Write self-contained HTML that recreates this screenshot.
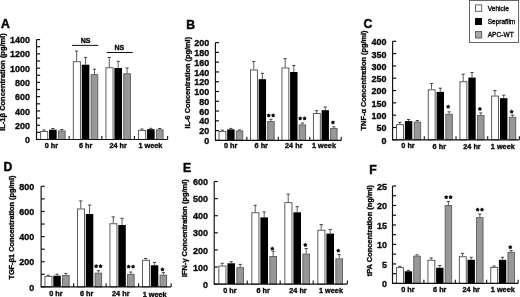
<!DOCTYPE html><html><head><meta charset="utf-8"><style>html,body{margin:0;padding:0;background:#fff;width:520px;height:297px;overflow:hidden}svg{display:block}</style></head><body>
<svg width="520" height="297" viewBox="0 0 520 297" style="filter:blur(0.3px)">
<rect width="520" height="297" fill="#fff"/>
<line x1="44" y1="131" x2="44" y2="130" stroke="#333" stroke-width="0.8"/>
<line x1="42.4" y1="130" x2="45.6" y2="130" stroke="#333" stroke-width="0.9"/>
<rect x="40.65" y="131.45" width="7.1" height="8.05" fill="#fff" stroke="#4a4a4a" stroke-width="0.9"/>
<line x1="52.9" y1="129.7" x2="52.9" y2="128.5" stroke="#333" stroke-width="0.8"/>
<line x1="51.3" y1="128.5" x2="54.5" y2="128.5" stroke="#333" stroke-width="0.9"/>
<rect x="49.1" y="129.7" width="7.6" height="9.8" fill="#000"/>
<line x1="61.8" y1="130.5" x2="61.8" y2="129.5" stroke="#333" stroke-width="0.8"/>
<line x1="60.2" y1="129.5" x2="63.4" y2="129.5" stroke="#333" stroke-width="0.9"/>
<rect x="58.45" y="130.95" width="6.7" height="8.55" fill="#979797" stroke="#5c5c5c" stroke-width="0.9"/>
<line x1="76.65" y1="61.3" x2="76.65" y2="51.1" stroke="#333" stroke-width="0.8"/>
<line x1="75.05" y1="51.1" x2="78.25" y2="51.1" stroke="#333" stroke-width="0.9"/>
<rect x="73.3" y="61.75" width="7.1" height="77.75" fill="#fff" stroke="#4a4a4a" stroke-width="0.9"/>
<line x1="85.55" y1="64.7" x2="85.55" y2="57.4" stroke="#333" stroke-width="0.8"/>
<line x1="83.95" y1="57.4" x2="87.15" y2="57.4" stroke="#333" stroke-width="0.9"/>
<rect x="81.75" y="64.7" width="7.6" height="74.8" fill="#000"/>
<line x1="94.45" y1="74.2" x2="94.45" y2="69.2" stroke="#333" stroke-width="0.8"/>
<line x1="92.85" y1="69.2" x2="96.05" y2="69.2" stroke="#333" stroke-width="0.9"/>
<rect x="91.1" y="74.65" width="6.7" height="64.85" fill="#979797" stroke="#5c5c5c" stroke-width="0.9"/>
<line x1="109.3" y1="67.3" x2="109.3" y2="57.4" stroke="#333" stroke-width="0.8"/>
<line x1="107.7" y1="57.4" x2="110.9" y2="57.4" stroke="#333" stroke-width="0.9"/>
<rect x="105.95" y="67.75" width="7.1" height="71.75" fill="#fff" stroke="#4a4a4a" stroke-width="0.9"/>
<line x1="118.2" y1="68" x2="118.2" y2="61.3" stroke="#333" stroke-width="0.8"/>
<line x1="116.6" y1="61.3" x2="119.8" y2="61.3" stroke="#333" stroke-width="0.9"/>
<rect x="114.4" y="68" width="7.6" height="71.5" fill="#000"/>
<line x1="127.1" y1="73.3" x2="127.1" y2="68" stroke="#333" stroke-width="0.8"/>
<line x1="125.5" y1="68" x2="128.7" y2="68" stroke="#333" stroke-width="0.9"/>
<rect x="123.75" y="73.75" width="6.7" height="65.75" fill="#979797" stroke="#5c5c5c" stroke-width="0.9"/>
<line x1="141.95" y1="129.9" x2="141.95" y2="129" stroke="#333" stroke-width="0.8"/>
<line x1="140.35" y1="129" x2="143.55" y2="129" stroke="#333" stroke-width="0.9"/>
<rect x="138.6" y="130.35" width="7.1" height="9.15" fill="#fff" stroke="#4a4a4a" stroke-width="0.9"/>
<line x1="150.85" y1="129.2" x2="150.85" y2="128.3" stroke="#333" stroke-width="0.8"/>
<line x1="149.25" y1="128.3" x2="152.45" y2="128.3" stroke="#333" stroke-width="0.9"/>
<rect x="147.05" y="129.2" width="7.6" height="10.3" fill="#000"/>
<line x1="159.75" y1="129.4" x2="159.75" y2="128.5" stroke="#333" stroke-width="0.8"/>
<line x1="158.15" y1="128.5" x2="161.35" y2="128.5" stroke="#333" stroke-width="0.9"/>
<rect x="156.4" y="129.85" width="6.7" height="9.65" fill="#979797" stroke="#5c5c5c" stroke-width="0.9"/>
<path d="M36.5 39.6V139.5H167.6" fill="none" stroke="#111" stroke-width="1.15"/>
<line x1="36.5" y1="139.5" x2="40.1" y2="139.5" stroke="#111" stroke-width="1.2"/>
<line x1="36.5" y1="132.36" x2="40.1" y2="132.36" stroke="#111" stroke-width="1.2"/>
<line x1="36.5" y1="125.23" x2="40.1" y2="125.23" stroke="#111" stroke-width="1.2"/>
<line x1="36.5" y1="118.09" x2="40.1" y2="118.09" stroke="#111" stroke-width="1.2"/>
<line x1="36.5" y1="110.96" x2="40.1" y2="110.96" stroke="#111" stroke-width="1.2"/>
<line x1="36.5" y1="103.82" x2="40.1" y2="103.82" stroke="#111" stroke-width="1.2"/>
<line x1="36.5" y1="96.69" x2="40.1" y2="96.69" stroke="#111" stroke-width="1.2"/>
<line x1="36.5" y1="89.55" x2="40.1" y2="89.55" stroke="#111" stroke-width="1.2"/>
<line x1="36.5" y1="82.41" x2="40.1" y2="82.41" stroke="#111" stroke-width="1.2"/>
<line x1="36.5" y1="75.28" x2="40.1" y2="75.28" stroke="#111" stroke-width="1.2"/>
<line x1="36.5" y1="68.14" x2="40.1" y2="68.14" stroke="#111" stroke-width="1.2"/>
<line x1="36.5" y1="61.01" x2="40.1" y2="61.01" stroke="#111" stroke-width="1.2"/>
<line x1="36.5" y1="53.87" x2="40.1" y2="53.87" stroke="#111" stroke-width="1.2"/>
<line x1="36.5" y1="46.74" x2="40.1" y2="46.74" stroke="#111" stroke-width="1.2"/>
<line x1="36.5" y1="39.6" x2="40.1" y2="39.6" stroke="#111" stroke-width="1.2"/>
<line x1="69.15" y1="139.5" x2="69.15" y2="135.9" stroke="#111" stroke-width="1.1"/>
<line x1="101.8" y1="139.5" x2="101.8" y2="135.9" stroke="#111" stroke-width="1.1"/>
<line x1="134.45" y1="139.5" x2="134.45" y2="135.9" stroke="#111" stroke-width="1.1"/>
<line x1="167.6" y1="139.5" x2="167.6" y2="135.9" stroke="#111" stroke-width="1.1"/>
<text x="30" y="143.1" text-anchor="end" textLength="5" lengthAdjust="spacingAndGlyphs" style="font-family:'Liberation Sans', sans-serif;font-weight:bold;stroke:#111;stroke-width:0.35px;font-size:9.5px;stroke-width:0.35px">0</text>
<text x="30" y="128.83" text-anchor="end" textLength="15.01" lengthAdjust="spacingAndGlyphs" style="font-family:'Liberation Sans', sans-serif;font-weight:bold;stroke:#111;stroke-width:0.35px;font-size:9.5px;stroke-width:0.35px">200</text>
<text x="30" y="114.56" text-anchor="end" textLength="15.01" lengthAdjust="spacingAndGlyphs" style="font-family:'Liberation Sans', sans-serif;font-weight:bold;stroke:#111;stroke-width:0.35px;font-size:9.5px;stroke-width:0.35px">400</text>
<text x="30" y="100.29" text-anchor="end" textLength="15.01" lengthAdjust="spacingAndGlyphs" style="font-family:'Liberation Sans', sans-serif;font-weight:bold;stroke:#111;stroke-width:0.35px;font-size:9.5px;stroke-width:0.35px">600</text>
<text x="30" y="86.01" text-anchor="end" textLength="15.01" lengthAdjust="spacingAndGlyphs" style="font-family:'Liberation Sans', sans-serif;font-weight:bold;stroke:#111;stroke-width:0.35px;font-size:9.5px;stroke-width:0.35px">800</text>
<text x="30" y="71.74" text-anchor="end" textLength="20.02" lengthAdjust="spacingAndGlyphs" style="font-family:'Liberation Sans', sans-serif;font-weight:bold;stroke:#111;stroke-width:0.35px;font-size:9.5px;stroke-width:0.35px">1000</text>
<text x="30" y="57.47" text-anchor="end" textLength="20.02" lengthAdjust="spacingAndGlyphs" style="font-family:'Liberation Sans', sans-serif;font-weight:bold;stroke:#111;stroke-width:0.35px;font-size:9.5px;stroke-width:0.35px">1200</text>
<text x="30" y="43.2" text-anchor="end" textLength="20.02" lengthAdjust="spacingAndGlyphs" style="font-family:'Liberation Sans', sans-serif;font-weight:bold;stroke:#111;stroke-width:0.35px;font-size:9.5px;stroke-width:0.35px">1400</text>
<text x="51.4" y="147.6" text-anchor="middle" style="font-family:'Liberation Sans', sans-serif;font-weight:bold;stroke:#111;stroke-width:0.35px;font-size:7.3px">0 hr</text>
<text x="85.7" y="147.6" text-anchor="middle" style="font-family:'Liberation Sans', sans-serif;font-weight:bold;stroke:#111;stroke-width:0.35px;font-size:7.3px">6 hr</text>
<text x="118.2" y="147.6" text-anchor="middle" style="font-family:'Liberation Sans', sans-serif;font-weight:bold;stroke:#111;stroke-width:0.35px;font-size:7.3px">24 hr</text>
<text x="150.4" y="147.6" text-anchor="middle" style="font-family:'Liberation Sans', sans-serif;font-weight:bold;stroke:#111;stroke-width:0.35px;font-size:7.3px">1 week</text>
<text transform="translate(5.1 130.8) rotate(-90)" textLength="97.6" lengthAdjust="spacingAndGlyphs" style="font-family:'Liberation Sans', sans-serif;font-weight:bold;stroke:#111;stroke-width:0.35px;font-size:7.9px">IL-1β Concentration (pg/ml)</text>
<text x="0.9" y="27.6" style="font-family:'Liberation Sans', sans-serif;font-weight:bold;stroke:#111;stroke-width:0.35px;font-size:12.2px;stroke-width:0.5px">A</text>
<line x1="222.3" y1="130.9" x2="222.3" y2="130.1" stroke="#333" stroke-width="0.8"/>
<line x1="220.7" y1="130.1" x2="223.9" y2="130.1" stroke="#333" stroke-width="0.9"/>
<rect x="219.05" y="131.35" width="6.9" height="9.05" fill="#fff" stroke="#4a4a4a" stroke-width="0.9"/>
<line x1="230.9" y1="129.4" x2="230.9" y2="128.4" stroke="#333" stroke-width="0.8"/>
<line x1="229.3" y1="128.4" x2="232.5" y2="128.4" stroke="#333" stroke-width="0.9"/>
<rect x="227.2" y="129.4" width="7.4" height="11" fill="#000"/>
<line x1="239.5" y1="130.5" x2="239.5" y2="129.9" stroke="#333" stroke-width="0.8"/>
<line x1="237.9" y1="129.9" x2="241.1" y2="129.9" stroke="#333" stroke-width="0.9"/>
<rect x="236.25" y="130.95" width="6.5" height="9.45" fill="#979797" stroke="#5c5c5c" stroke-width="0.9"/>
<line x1="253.75" y1="69.5" x2="253.75" y2="61.4" stroke="#333" stroke-width="0.8"/>
<line x1="252.15" y1="61.4" x2="255.35" y2="61.4" stroke="#333" stroke-width="0.9"/>
<rect x="250.5" y="69.95" width="6.9" height="70.45" fill="#fff" stroke="#4a4a4a" stroke-width="0.9"/>
<line x1="262.35" y1="79.2" x2="262.35" y2="73.3" stroke="#333" stroke-width="0.8"/>
<line x1="260.75" y1="73.3" x2="263.95" y2="73.3" stroke="#333" stroke-width="0.9"/>
<rect x="258.65" y="79.2" width="7.4" height="61.2" fill="#000"/>
<line x1="270.95" y1="121.1" x2="270.95" y2="119.3" stroke="#333" stroke-width="0.8"/>
<line x1="269.35" y1="119.3" x2="272.55" y2="119.3" stroke="#333" stroke-width="0.9"/>
<rect x="267.7" y="121.55" width="6.5" height="18.85" fill="#979797" stroke="#5c5c5c" stroke-width="0.9"/>
<line x1="285.2" y1="67.5" x2="285.2" y2="58.7" stroke="#333" stroke-width="0.8"/>
<line x1="283.6" y1="58.7" x2="286.8" y2="58.7" stroke="#333" stroke-width="0.9"/>
<rect x="281.95" y="67.95" width="6.9" height="72.45" fill="#fff" stroke="#4a4a4a" stroke-width="0.9"/>
<line x1="293.8" y1="72" x2="293.8" y2="65.5" stroke="#333" stroke-width="0.8"/>
<line x1="292.2" y1="65.5" x2="295.4" y2="65.5" stroke="#333" stroke-width="0.9"/>
<rect x="290.1" y="72" width="7.4" height="68.4" fill="#000"/>
<line x1="302.4" y1="124.5" x2="302.4" y2="123" stroke="#333" stroke-width="0.8"/>
<line x1="300.8" y1="123" x2="304" y2="123" stroke="#333" stroke-width="0.9"/>
<rect x="299.15" y="124.95" width="6.5" height="15.45" fill="#979797" stroke="#5c5c5c" stroke-width="0.9"/>
<line x1="316.65" y1="113.1" x2="316.65" y2="110.7" stroke="#333" stroke-width="0.8"/>
<line x1="315.05" y1="110.7" x2="318.25" y2="110.7" stroke="#333" stroke-width="0.9"/>
<rect x="313.4" y="113.55" width="6.9" height="26.85" fill="#fff" stroke="#4a4a4a" stroke-width="0.9"/>
<line x1="325.25" y1="110.2" x2="325.25" y2="107" stroke="#333" stroke-width="0.8"/>
<line x1="323.65" y1="107" x2="326.85" y2="107" stroke="#333" stroke-width="0.9"/>
<rect x="321.55" y="110.2" width="7.4" height="30.2" fill="#000"/>
<line x1="333.85" y1="128" x2="333.85" y2="126.8" stroke="#333" stroke-width="0.8"/>
<line x1="332.25" y1="126.8" x2="335.45" y2="126.8" stroke="#333" stroke-width="0.9"/>
<rect x="330.6" y="128.45" width="6.5" height="11.95" fill="#979797" stroke="#5c5c5c" stroke-width="0.9"/>
<polygon points="268.75,113.2 269.63,114.19 270.84,114.72 270.17,115.86 270.04,117.18 268.75,116.9 267.46,117.18 267.33,115.86 266.66,114.72 267.87,114.19" fill="#111"/>
<polygon points="273.15,113.2 274.03,114.19 275.24,114.72 274.57,115.86 274.44,117.18 273.15,116.9 271.86,117.18 271.73,115.86 271.06,114.72 272.27,114.19" fill="#111"/>
<polygon points="300.2,116.2 301.08,117.19 302.29,117.72 301.62,118.86 301.49,120.18 300.2,119.9 298.91,120.18 298.78,118.86 298.11,117.72 299.32,117.19" fill="#111"/>
<polygon points="304.6,116.2 305.48,117.19 306.69,117.72 306.02,118.86 305.89,120.18 304.6,119.9 303.31,120.18 303.18,118.86 302.51,117.72 303.72,117.19" fill="#111"/>
<polygon points="332.95,120.3 333.83,121.29 335.04,121.82 334.37,122.96 334.24,124.28 332.95,124 331.66,124.28 331.53,122.96 330.86,121.82 332.07,121.29" fill="#111"/>
<path d="M215.4 42.6V140.4H341.2" fill="none" stroke="#111" stroke-width="1.15"/>
<line x1="215.4" y1="140.4" x2="219" y2="140.4" stroke="#111" stroke-width="1.2"/>
<line x1="215.4" y1="130.62" x2="219" y2="130.62" stroke="#111" stroke-width="1.2"/>
<line x1="215.4" y1="120.84" x2="219" y2="120.84" stroke="#111" stroke-width="1.2"/>
<line x1="215.4" y1="111.06" x2="219" y2="111.06" stroke="#111" stroke-width="1.2"/>
<line x1="215.4" y1="101.28" x2="219" y2="101.28" stroke="#111" stroke-width="1.2"/>
<line x1="215.4" y1="91.5" x2="219" y2="91.5" stroke="#111" stroke-width="1.2"/>
<line x1="215.4" y1="81.72" x2="219" y2="81.72" stroke="#111" stroke-width="1.2"/>
<line x1="215.4" y1="71.94" x2="219" y2="71.94" stroke="#111" stroke-width="1.2"/>
<line x1="215.4" y1="62.16" x2="219" y2="62.16" stroke="#111" stroke-width="1.2"/>
<line x1="215.4" y1="52.38" x2="219" y2="52.38" stroke="#111" stroke-width="1.2"/>
<line x1="215.4" y1="42.6" x2="219" y2="42.6" stroke="#111" stroke-width="1.2"/>
<line x1="246.85" y1="140.4" x2="246.85" y2="136.8" stroke="#111" stroke-width="1.1"/>
<line x1="278.3" y1="140.4" x2="278.3" y2="136.8" stroke="#111" stroke-width="1.1"/>
<line x1="309.75" y1="140.4" x2="309.75" y2="136.8" stroke="#111" stroke-width="1.1"/>
<line x1="341.2" y1="140.4" x2="341.2" y2="136.8" stroke="#111" stroke-width="1.1"/>
<text x="209.3" y="144" text-anchor="end" textLength="5" lengthAdjust="spacingAndGlyphs" style="font-family:'Liberation Sans', sans-serif;font-weight:bold;stroke:#111;stroke-width:0.35px;font-size:9.5px;stroke-width:0.35px">0</text>
<text x="209.3" y="134.22" text-anchor="end" textLength="10.01" lengthAdjust="spacingAndGlyphs" style="font-family:'Liberation Sans', sans-serif;font-weight:bold;stroke:#111;stroke-width:0.35px;font-size:9.5px;stroke-width:0.35px">20</text>
<text x="209.3" y="124.44" text-anchor="end" textLength="10.01" lengthAdjust="spacingAndGlyphs" style="font-family:'Liberation Sans', sans-serif;font-weight:bold;stroke:#111;stroke-width:0.35px;font-size:9.5px;stroke-width:0.35px">40</text>
<text x="209.3" y="114.66" text-anchor="end" textLength="10.01" lengthAdjust="spacingAndGlyphs" style="font-family:'Liberation Sans', sans-serif;font-weight:bold;stroke:#111;stroke-width:0.35px;font-size:9.5px;stroke-width:0.35px">60</text>
<text x="209.3" y="104.88" text-anchor="end" textLength="10.01" lengthAdjust="spacingAndGlyphs" style="font-family:'Liberation Sans', sans-serif;font-weight:bold;stroke:#111;stroke-width:0.35px;font-size:9.5px;stroke-width:0.35px">80</text>
<text x="209.3" y="95.1" text-anchor="end" textLength="15.01" lengthAdjust="spacingAndGlyphs" style="font-family:'Liberation Sans', sans-serif;font-weight:bold;stroke:#111;stroke-width:0.35px;font-size:9.5px;stroke-width:0.35px">100</text>
<text x="209.3" y="85.32" text-anchor="end" textLength="15.01" lengthAdjust="spacingAndGlyphs" style="font-family:'Liberation Sans', sans-serif;font-weight:bold;stroke:#111;stroke-width:0.35px;font-size:9.5px;stroke-width:0.35px">120</text>
<text x="209.3" y="75.54" text-anchor="end" textLength="15.01" lengthAdjust="spacingAndGlyphs" style="font-family:'Liberation Sans', sans-serif;font-weight:bold;stroke:#111;stroke-width:0.35px;font-size:9.5px;stroke-width:0.35px">140</text>
<text x="209.3" y="65.76" text-anchor="end" textLength="15.01" lengthAdjust="spacingAndGlyphs" style="font-family:'Liberation Sans', sans-serif;font-weight:bold;stroke:#111;stroke-width:0.35px;font-size:9.5px;stroke-width:0.35px">160</text>
<text x="209.3" y="55.98" text-anchor="end" textLength="15.01" lengthAdjust="spacingAndGlyphs" style="font-family:'Liberation Sans', sans-serif;font-weight:bold;stroke:#111;stroke-width:0.35px;font-size:9.5px;stroke-width:0.35px">180</text>
<text x="209.3" y="46.2" text-anchor="end" textLength="15.01" lengthAdjust="spacingAndGlyphs" style="font-family:'Liberation Sans', sans-serif;font-weight:bold;stroke:#111;stroke-width:0.35px;font-size:9.5px;stroke-width:0.35px">200</text>
<text x="230.6" y="148" text-anchor="middle" style="font-family:'Liberation Sans', sans-serif;font-weight:bold;stroke:#111;stroke-width:0.35px;font-size:7.3px">0 hr</text>
<text x="261.25" y="148" text-anchor="middle" style="font-family:'Liberation Sans', sans-serif;font-weight:bold;stroke:#111;stroke-width:0.35px;font-size:7.3px">6 hr</text>
<text x="293.8" y="148" text-anchor="middle" style="font-family:'Liberation Sans', sans-serif;font-weight:bold;stroke:#111;stroke-width:0.35px;font-size:7.3px">24 hr</text>
<text x="324" y="148" text-anchor="middle" style="font-family:'Liberation Sans', sans-serif;font-weight:bold;stroke:#111;stroke-width:0.35px;font-size:7.3px">1 week</text>
<text transform="translate(189.75 128.4) rotate(-90)" textLength="91.5" lengthAdjust="spacingAndGlyphs" style="font-family:'Liberation Sans', sans-serif;font-weight:bold;stroke:#111;stroke-width:0.35px;font-size:7.8px">IL-6 Concentration (pg/ml)</text>
<text x="186.2" y="28.7" style="font-family:'Liberation Sans', sans-serif;font-weight:bold;stroke:#111;stroke-width:0.35px;font-size:12.2px;stroke-width:0.5px">B</text>
<line x1="399.8" y1="124.2" x2="399.8" y2="122.4" stroke="#333" stroke-width="0.8"/>
<line x1="398.2" y1="122.4" x2="401.4" y2="122.4" stroke="#333" stroke-width="0.9"/>
<rect x="396.55" y="124.65" width="6.9" height="15.15" fill="#fff" stroke="#4a4a4a" stroke-width="0.9"/>
<line x1="408.6" y1="121.1" x2="408.6" y2="119.5" stroke="#333" stroke-width="0.8"/>
<line x1="407" y1="119.5" x2="410.2" y2="119.5" stroke="#333" stroke-width="0.9"/>
<rect x="404.9" y="121.1" width="7.4" height="18.7" fill="#000"/>
<line x1="417.4" y1="121.6" x2="417.4" y2="120.5" stroke="#333" stroke-width="0.8"/>
<line x1="415.8" y1="120.5" x2="419" y2="120.5" stroke="#333" stroke-width="0.9"/>
<rect x="414.15" y="122.05" width="6.5" height="17.75" fill="#979797" stroke="#5c5c5c" stroke-width="0.9"/>
<line x1="431.5" y1="89.4" x2="431.5" y2="83.5" stroke="#333" stroke-width="0.8"/>
<line x1="429.9" y1="83.5" x2="433.1" y2="83.5" stroke="#333" stroke-width="0.9"/>
<rect x="428.25" y="89.85" width="6.9" height="49.95" fill="#fff" stroke="#4a4a4a" stroke-width="0.9"/>
<line x1="440.3" y1="91.9" x2="440.3" y2="88.2" stroke="#333" stroke-width="0.8"/>
<line x1="438.7" y1="88.2" x2="441.9" y2="88.2" stroke="#333" stroke-width="0.9"/>
<rect x="436.6" y="91.9" width="7.4" height="47.9" fill="#000"/>
<line x1="449.1" y1="113.8" x2="449.1" y2="111.8" stroke="#333" stroke-width="0.8"/>
<line x1="447.5" y1="111.8" x2="450.7" y2="111.8" stroke="#333" stroke-width="0.9"/>
<rect x="445.85" y="114.25" width="6.5" height="25.55" fill="#979797" stroke="#5c5c5c" stroke-width="0.9"/>
<line x1="463.2" y1="81.3" x2="463.2" y2="74.2" stroke="#333" stroke-width="0.8"/>
<line x1="461.6" y1="74.2" x2="464.8" y2="74.2" stroke="#333" stroke-width="0.9"/>
<rect x="459.95" y="81.75" width="6.9" height="58.05" fill="#fff" stroke="#4a4a4a" stroke-width="0.9"/>
<line x1="472" y1="77.6" x2="472" y2="72.5" stroke="#333" stroke-width="0.8"/>
<line x1="470.4" y1="72.5" x2="473.6" y2="72.5" stroke="#333" stroke-width="0.9"/>
<rect x="468.3" y="77.6" width="7.4" height="62.2" fill="#000"/>
<line x1="480.8" y1="115.1" x2="480.8" y2="112.9" stroke="#333" stroke-width="0.8"/>
<line x1="479.2" y1="112.9" x2="482.4" y2="112.9" stroke="#333" stroke-width="0.9"/>
<rect x="477.55" y="115.55" width="6.5" height="24.25" fill="#979797" stroke="#5c5c5c" stroke-width="0.9"/>
<line x1="494.9" y1="95.6" x2="494.9" y2="90.6" stroke="#333" stroke-width="0.8"/>
<line x1="493.3" y1="90.6" x2="496.5" y2="90.6" stroke="#333" stroke-width="0.9"/>
<rect x="491.65" y="96.05" width="6.9" height="43.75" fill="#fff" stroke="#4a4a4a" stroke-width="0.9"/>
<line x1="503.7" y1="98.2" x2="503.7" y2="95.2" stroke="#333" stroke-width="0.8"/>
<line x1="502.1" y1="95.2" x2="505.3" y2="95.2" stroke="#333" stroke-width="0.9"/>
<rect x="500" y="98.2" width="7.4" height="41.6" fill="#000"/>
<line x1="512.5" y1="116.8" x2="512.5" y2="115.2" stroke="#333" stroke-width="0.8"/>
<line x1="510.9" y1="115.2" x2="514.1" y2="115.2" stroke="#333" stroke-width="0.9"/>
<rect x="509.25" y="117.25" width="6.5" height="22.55" fill="#979797" stroke="#5c5c5c" stroke-width="0.9"/>
<polygon points="448.2,104.6 449.08,105.59 450.29,106.12 449.62,107.26 449.49,108.58 448.2,108.3 446.91,108.58 446.78,107.26 446.11,106.12 447.32,105.59" fill="#111"/>
<polygon points="479.9,106.8 480.78,107.79 481.99,108.32 481.32,109.46 481.19,110.78 479.9,110.5 478.61,110.78 478.48,109.46 477.81,108.32 479.02,107.79" fill="#111"/>
<polygon points="511.6,109.5 512.48,110.49 513.69,111.02 513.02,112.16 512.89,113.48 511.6,113.2 510.31,113.48 510.18,112.16 509.51,111.02 510.72,110.49" fill="#111"/>
<path d="M392.6 41.3V139.8H519.4" fill="none" stroke="#111" stroke-width="1.15"/>
<line x1="392.6" y1="139.8" x2="396.2" y2="139.8" stroke="#111" stroke-width="1.2"/>
<line x1="392.6" y1="127.49" x2="396.2" y2="127.49" stroke="#111" stroke-width="1.2"/>
<line x1="392.6" y1="115.18" x2="396.2" y2="115.18" stroke="#111" stroke-width="1.2"/>
<line x1="392.6" y1="102.86" x2="396.2" y2="102.86" stroke="#111" stroke-width="1.2"/>
<line x1="392.6" y1="90.55" x2="396.2" y2="90.55" stroke="#111" stroke-width="1.2"/>
<line x1="392.6" y1="78.24" x2="396.2" y2="78.24" stroke="#111" stroke-width="1.2"/>
<line x1="392.6" y1="65.92" x2="396.2" y2="65.92" stroke="#111" stroke-width="1.2"/>
<line x1="392.6" y1="53.61" x2="396.2" y2="53.61" stroke="#111" stroke-width="1.2"/>
<line x1="392.6" y1="41.3" x2="396.2" y2="41.3" stroke="#111" stroke-width="1.2"/>
<line x1="424.3" y1="139.8" x2="424.3" y2="136.2" stroke="#111" stroke-width="1.1"/>
<line x1="456" y1="139.8" x2="456" y2="136.2" stroke="#111" stroke-width="1.1"/>
<line x1="487.7" y1="139.8" x2="487.7" y2="136.2" stroke="#111" stroke-width="1.1"/>
<line x1="519.4" y1="139.8" x2="519.4" y2="136.2" stroke="#111" stroke-width="1.1"/>
<text x="386.4" y="143.7" text-anchor="end" textLength="5" lengthAdjust="spacingAndGlyphs" style="font-family:'Liberation Sans', sans-serif;font-weight:bold;stroke:#111;stroke-width:0.35px;font-size:9.5px;stroke-width:0.35px">0</text>
<text x="386.4" y="131.39" text-anchor="end" textLength="10.01" lengthAdjust="spacingAndGlyphs" style="font-family:'Liberation Sans', sans-serif;font-weight:bold;stroke:#111;stroke-width:0.35px;font-size:9.5px;stroke-width:0.35px">50</text>
<text x="386.4" y="119.08" text-anchor="end" textLength="15.01" lengthAdjust="spacingAndGlyphs" style="font-family:'Liberation Sans', sans-serif;font-weight:bold;stroke:#111;stroke-width:0.35px;font-size:9.5px;stroke-width:0.35px">100</text>
<text x="386.4" y="106.76" text-anchor="end" textLength="15.01" lengthAdjust="spacingAndGlyphs" style="font-family:'Liberation Sans', sans-serif;font-weight:bold;stroke:#111;stroke-width:0.35px;font-size:9.5px;stroke-width:0.35px">150</text>
<text x="386.4" y="94.45" text-anchor="end" textLength="15.01" lengthAdjust="spacingAndGlyphs" style="font-family:'Liberation Sans', sans-serif;font-weight:bold;stroke:#111;stroke-width:0.35px;font-size:9.5px;stroke-width:0.35px">200</text>
<text x="386.4" y="82.14" text-anchor="end" textLength="15.01" lengthAdjust="spacingAndGlyphs" style="font-family:'Liberation Sans', sans-serif;font-weight:bold;stroke:#111;stroke-width:0.35px;font-size:9.5px;stroke-width:0.35px">250</text>
<text x="386.4" y="69.83" text-anchor="end" textLength="15.01" lengthAdjust="spacingAndGlyphs" style="font-family:'Liberation Sans', sans-serif;font-weight:bold;stroke:#111;stroke-width:0.35px;font-size:9.5px;stroke-width:0.35px">300</text>
<text x="386.4" y="57.51" text-anchor="end" textLength="15.01" lengthAdjust="spacingAndGlyphs" style="font-family:'Liberation Sans', sans-serif;font-weight:bold;stroke:#111;stroke-width:0.35px;font-size:9.5px;stroke-width:0.35px">350</text>
<text x="386.4" y="45.2" text-anchor="end" textLength="15.01" lengthAdjust="spacingAndGlyphs" style="font-family:'Liberation Sans', sans-serif;font-weight:bold;stroke:#111;stroke-width:0.35px;font-size:9.5px;stroke-width:0.35px">400</text>
<text x="408" y="148.1" text-anchor="middle" style="font-family:'Liberation Sans', sans-serif;font-weight:bold;stroke:#111;stroke-width:0.35px;font-size:7.3px">0 hr</text>
<text x="439.3" y="149.2" text-anchor="middle" style="font-family:'Liberation Sans', sans-serif;font-weight:bold;stroke:#111;stroke-width:0.35px;font-size:7.3px">6 hr</text>
<text x="472" y="149.2" text-anchor="middle" style="font-family:'Liberation Sans', sans-serif;font-weight:bold;stroke:#111;stroke-width:0.35px;font-size:7.3px">24 hr</text>
<text x="502.8" y="149.2" text-anchor="middle" style="font-family:'Liberation Sans', sans-serif;font-weight:bold;stroke:#111;stroke-width:0.35px;font-size:7.3px">1 week</text>
<text transform="translate(365.65 130.4) rotate(-90)" textLength="99.9" lengthAdjust="spacingAndGlyphs" style="font-family:'Liberation Sans', sans-serif;font-weight:bold;stroke:#111;stroke-width:0.35px;font-size:7.8px">TNF-α Concentration (pg/ml)</text>
<text x="363.6" y="28" style="font-family:'Liberation Sans', sans-serif;font-weight:bold;stroke:#111;stroke-width:0.35px;font-size:12.2px;stroke-width:0.5px">C</text>
<line x1="48.25" y1="275.9" x2="48.25" y2="275.2" stroke="#333" stroke-width="0.8"/>
<line x1="46.65" y1="275.2" x2="49.85" y2="275.2" stroke="#333" stroke-width="0.9"/>
<rect x="44.95" y="276.35" width="7" height="10.55" fill="#fff" stroke="#4a4a4a" stroke-width="0.9"/>
<line x1="57.05" y1="275.7" x2="57.05" y2="274.1" stroke="#333" stroke-width="0.8"/>
<line x1="55.45" y1="274.1" x2="58.65" y2="274.1" stroke="#333" stroke-width="0.9"/>
<rect x="53.3" y="275.7" width="7.5" height="11.2" fill="#000"/>
<line x1="65.85" y1="275" x2="65.85" y2="273.4" stroke="#333" stroke-width="0.8"/>
<line x1="64.25" y1="273.4" x2="67.45" y2="273.4" stroke="#333" stroke-width="0.9"/>
<rect x="62.55" y="275.45" width="6.6" height="11.45" fill="#979797" stroke="#5c5c5c" stroke-width="0.9"/>
<line x1="80.75" y1="208.5" x2="80.75" y2="200.9" stroke="#333" stroke-width="0.8"/>
<line x1="79.15" y1="200.9" x2="82.35" y2="200.9" stroke="#333" stroke-width="0.9"/>
<rect x="77.45" y="208.95" width="7" height="77.95" fill="#fff" stroke="#4a4a4a" stroke-width="0.9"/>
<line x1="89.55" y1="214" x2="89.55" y2="205.1" stroke="#333" stroke-width="0.8"/>
<line x1="87.95" y1="205.1" x2="91.15" y2="205.1" stroke="#333" stroke-width="0.9"/>
<rect x="85.8" y="214" width="7.5" height="72.9" fill="#000"/>
<line x1="98.35" y1="272.7" x2="98.35" y2="270.7" stroke="#333" stroke-width="0.8"/>
<line x1="96.75" y1="270.7" x2="99.95" y2="270.7" stroke="#333" stroke-width="0.9"/>
<rect x="95.05" y="273.15" width="6.6" height="13.75" fill="#979797" stroke="#5c5c5c" stroke-width="0.9"/>
<line x1="113.25" y1="223.3" x2="113.25" y2="216.9" stroke="#333" stroke-width="0.8"/>
<line x1="111.65" y1="216.9" x2="114.85" y2="216.9" stroke="#333" stroke-width="0.9"/>
<rect x="109.95" y="223.75" width="7" height="63.15" fill="#fff" stroke="#4a4a4a" stroke-width="0.9"/>
<line x1="122.05" y1="225" x2="122.05" y2="218.3" stroke="#333" stroke-width="0.8"/>
<line x1="120.45" y1="218.3" x2="123.65" y2="218.3" stroke="#333" stroke-width="0.9"/>
<rect x="118.3" y="225" width="7.5" height="61.9" fill="#000"/>
<line x1="130.85" y1="273.9" x2="130.85" y2="272" stroke="#333" stroke-width="0.8"/>
<line x1="129.25" y1="272" x2="132.45" y2="272" stroke="#333" stroke-width="0.9"/>
<rect x="127.55" y="274.35" width="6.6" height="12.55" fill="#979797" stroke="#5c5c5c" stroke-width="0.9"/>
<line x1="145.75" y1="259.8" x2="145.75" y2="258.5" stroke="#333" stroke-width="0.8"/>
<line x1="144.15" y1="258.5" x2="147.35" y2="258.5" stroke="#333" stroke-width="0.9"/>
<rect x="142.45" y="260.25" width="7" height="26.65" fill="#fff" stroke="#4a4a4a" stroke-width="0.9"/>
<line x1="154.55" y1="265.3" x2="154.55" y2="262.4" stroke="#333" stroke-width="0.8"/>
<line x1="152.95" y1="262.4" x2="156.15" y2="262.4" stroke="#333" stroke-width="0.9"/>
<rect x="150.8" y="265.3" width="7.5" height="21.6" fill="#000"/>
<line x1="163.35" y1="274.7" x2="163.35" y2="272.7" stroke="#333" stroke-width="0.8"/>
<line x1="161.75" y1="272.7" x2="164.95" y2="272.7" stroke="#333" stroke-width="0.9"/>
<rect x="160.05" y="275.15" width="6.6" height="11.75" fill="#979797" stroke="#5c5c5c" stroke-width="0.9"/>
<polygon points="96.15,264 97.03,264.99 98.24,265.52 97.57,266.66 97.44,267.98 96.15,267.7 94.86,267.98 94.73,266.66 94.06,265.52 95.27,264.99" fill="#111"/>
<polygon points="100.55,264 101.43,264.99 102.64,265.52 101.97,266.66 101.84,267.98 100.55,267.7 99.26,267.98 99.13,266.66 98.46,265.52 99.67,264.99" fill="#111"/>
<polygon points="128.65,264.4 129.53,265.39 130.74,265.92 130.07,267.06 129.94,268.38 128.65,268.1 127.36,268.38 127.23,267.06 126.56,265.92 127.77,265.39" fill="#111"/>
<polygon points="133.05,264.4 133.93,265.39 135.14,265.92 134.47,267.06 134.34,268.38 133.05,268.1 131.76,268.38 131.63,267.06 130.96,265.92 132.17,265.39" fill="#111"/>
<polygon points="162.45,267.3 163.33,268.29 164.54,268.82 163.87,269.96 163.74,271.28 162.45,271 161.16,271.28 161.03,269.96 160.36,268.82 161.57,268.29" fill="#111"/>
<path d="M41.1 186.3V286.9H171.1" fill="none" stroke="#111" stroke-width="1.15"/>
<line x1="41.1" y1="286.9" x2="44.7" y2="286.9" stroke="#111" stroke-width="1.2"/>
<line x1="41.1" y1="274.32" x2="44.7" y2="274.32" stroke="#111" stroke-width="1.2"/>
<line x1="41.1" y1="261.75" x2="44.7" y2="261.75" stroke="#111" stroke-width="1.2"/>
<line x1="41.1" y1="249.18" x2="44.7" y2="249.18" stroke="#111" stroke-width="1.2"/>
<line x1="41.1" y1="236.6" x2="44.7" y2="236.6" stroke="#111" stroke-width="1.2"/>
<line x1="41.1" y1="224.03" x2="44.7" y2="224.03" stroke="#111" stroke-width="1.2"/>
<line x1="41.1" y1="211.45" x2="44.7" y2="211.45" stroke="#111" stroke-width="1.2"/>
<line x1="41.1" y1="198.88" x2="44.7" y2="198.88" stroke="#111" stroke-width="1.2"/>
<line x1="41.1" y1="186.3" x2="44.7" y2="186.3" stroke="#111" stroke-width="1.2"/>
<line x1="73.6" y1="286.9" x2="73.6" y2="283.3" stroke="#111" stroke-width="1.1"/>
<line x1="106.1" y1="286.9" x2="106.1" y2="283.3" stroke="#111" stroke-width="1.1"/>
<line x1="138.6" y1="286.9" x2="138.6" y2="283.3" stroke="#111" stroke-width="1.1"/>
<line x1="171.1" y1="286.9" x2="171.1" y2="283.3" stroke="#111" stroke-width="1.1"/>
<text x="34.3" y="290.5" text-anchor="end" textLength="5" lengthAdjust="spacingAndGlyphs" style="font-family:'Liberation Sans', sans-serif;font-weight:bold;stroke:#111;stroke-width:0.35px;font-size:9.5px;stroke-width:0.35px">0</text>
<text x="34.3" y="265.35" text-anchor="end" textLength="15.01" lengthAdjust="spacingAndGlyphs" style="font-family:'Liberation Sans', sans-serif;font-weight:bold;stroke:#111;stroke-width:0.35px;font-size:9.5px;stroke-width:0.35px">200</text>
<text x="34.3" y="240.2" text-anchor="end" textLength="15.01" lengthAdjust="spacingAndGlyphs" style="font-family:'Liberation Sans', sans-serif;font-weight:bold;stroke:#111;stroke-width:0.35px;font-size:9.5px;stroke-width:0.35px">400</text>
<text x="34.3" y="215.05" text-anchor="end" textLength="15.01" lengthAdjust="spacingAndGlyphs" style="font-family:'Liberation Sans', sans-serif;font-weight:bold;stroke:#111;stroke-width:0.35px;font-size:9.5px;stroke-width:0.35px">600</text>
<text x="34.3" y="189.9" text-anchor="end" textLength="15.01" lengthAdjust="spacingAndGlyphs" style="font-family:'Liberation Sans', sans-serif;font-weight:bold;stroke:#111;stroke-width:0.35px;font-size:9.5px;stroke-width:0.35px">800</text>
<text x="55.95" y="295.8" text-anchor="middle" style="font-family:'Liberation Sans', sans-serif;font-weight:bold;stroke:#111;stroke-width:0.35px;font-size:7.3px">0 hr</text>
<text x="86.65" y="295.8" text-anchor="middle" style="font-family:'Liberation Sans', sans-serif;font-weight:bold;stroke:#111;stroke-width:0.35px;font-size:7.3px">6 hr</text>
<text x="120.8" y="295.8" text-anchor="middle" style="font-family:'Liberation Sans', sans-serif;font-weight:bold;stroke:#111;stroke-width:0.35px;font-size:7.3px">24 hr</text>
<text x="154.6" y="296.5" text-anchor="middle" style="font-family:'Liberation Sans', sans-serif;font-weight:bold;stroke:#111;stroke-width:0.35px;font-size:7.3px">1 week</text>
<text transform="translate(14.3 279.6) rotate(-90)" textLength="104.1" lengthAdjust="spacingAndGlyphs" style="font-family:'Liberation Sans', sans-serif;font-weight:bold;stroke:#111;stroke-width:0.35px;font-size:7.4px">TGF-β1 Concentration (pg/ml)</text>
<text x="3.5" y="171.3" style="font-family:'Liberation Sans', sans-serif;font-weight:bold;stroke:#111;stroke-width:0.35px;font-size:12.2px;stroke-width:0.5px">D</text>
<line x1="222.2" y1="265.6" x2="222.2" y2="263.3" stroke="#333" stroke-width="0.8"/>
<line x1="220.6" y1="263.3" x2="223.8" y2="263.3" stroke="#333" stroke-width="0.9"/>
<rect x="218.85" y="266.05" width="7.1" height="18.05" fill="#fff" stroke="#4a4a4a" stroke-width="0.9"/>
<line x1="231.2" y1="263.3" x2="231.2" y2="261.7" stroke="#333" stroke-width="0.8"/>
<line x1="229.6" y1="261.7" x2="232.8" y2="261.7" stroke="#333" stroke-width="0.9"/>
<rect x="227.4" y="263.3" width="7.6" height="20.8" fill="#000"/>
<line x1="240.2" y1="267.2" x2="240.2" y2="264.4" stroke="#333" stroke-width="0.8"/>
<line x1="238.6" y1="264.4" x2="241.8" y2="264.4" stroke="#333" stroke-width="0.9"/>
<rect x="236.85" y="267.65" width="6.7" height="16.45" fill="#979797" stroke="#5c5c5c" stroke-width="0.9"/>
<line x1="255.2" y1="212.3" x2="255.2" y2="205.3" stroke="#333" stroke-width="0.8"/>
<line x1="253.6" y1="205.3" x2="256.8" y2="205.3" stroke="#333" stroke-width="0.9"/>
<rect x="251.85" y="212.75" width="7.1" height="71.35" fill="#fff" stroke="#4a4a4a" stroke-width="0.9"/>
<line x1="264.2" y1="217.4" x2="264.2" y2="211.9" stroke="#333" stroke-width="0.8"/>
<line x1="262.6" y1="211.9" x2="265.8" y2="211.9" stroke="#333" stroke-width="0.9"/>
<rect x="260.4" y="217.4" width="7.6" height="66.7" fill="#000"/>
<line x1="273.2" y1="256" x2="273.2" y2="251.2" stroke="#333" stroke-width="0.8"/>
<line x1="271.6" y1="251.2" x2="274.8" y2="251.2" stroke="#333" stroke-width="0.9"/>
<rect x="269.85" y="256.45" width="6.7" height="27.65" fill="#979797" stroke="#5c5c5c" stroke-width="0.9"/>
<line x1="288.2" y1="202.2" x2="288.2" y2="194.1" stroke="#333" stroke-width="0.8"/>
<line x1="286.6" y1="194.1" x2="289.8" y2="194.1" stroke="#333" stroke-width="0.9"/>
<rect x="284.85" y="202.65" width="7.1" height="81.45" fill="#fff" stroke="#4a4a4a" stroke-width="0.9"/>
<line x1="297.2" y1="212.3" x2="297.2" y2="206.7" stroke="#333" stroke-width="0.8"/>
<line x1="295.6" y1="206.7" x2="298.8" y2="206.7" stroke="#333" stroke-width="0.9"/>
<rect x="293.4" y="212.3" width="7.6" height="71.8" fill="#000"/>
<line x1="306.2" y1="253.6" x2="306.2" y2="248.5" stroke="#333" stroke-width="0.8"/>
<line x1="304.6" y1="248.5" x2="307.8" y2="248.5" stroke="#333" stroke-width="0.9"/>
<rect x="302.85" y="254.05" width="6.7" height="30.05" fill="#979797" stroke="#5c5c5c" stroke-width="0.9"/>
<line x1="321.2" y1="229.8" x2="321.2" y2="224.6" stroke="#333" stroke-width="0.8"/>
<line x1="319.6" y1="224.6" x2="322.8" y2="224.6" stroke="#333" stroke-width="0.9"/>
<rect x="317.85" y="230.25" width="7.1" height="53.85" fill="#fff" stroke="#4a4a4a" stroke-width="0.9"/>
<line x1="330.2" y1="233.6" x2="330.2" y2="229.4" stroke="#333" stroke-width="0.8"/>
<line x1="328.6" y1="229.4" x2="331.8" y2="229.4" stroke="#333" stroke-width="0.9"/>
<rect x="326.4" y="233.6" width="7.6" height="50.5" fill="#000"/>
<line x1="339.2" y1="258.4" x2="339.2" y2="254.6" stroke="#333" stroke-width="0.8"/>
<line x1="337.6" y1="254.6" x2="340.8" y2="254.6" stroke="#333" stroke-width="0.9"/>
<rect x="335.85" y="258.85" width="6.7" height="25.25" fill="#979797" stroke="#5c5c5c" stroke-width="0.9"/>
<polygon points="272.3,246.4 273.18,247.39 274.39,247.92 273.72,249.06 273.59,250.38 272.3,250.1 271.01,250.38 270.88,249.06 270.21,247.92 271.42,247.39" fill="#111"/>
<polygon points="305.3,242.8 306.18,243.79 307.39,244.32 306.72,245.46 306.59,246.78 305.3,246.5 304.01,246.78 303.88,245.46 303.21,244.32 304.42,243.79" fill="#111"/>
<polygon points="338.3,248.4 339.18,249.39 340.39,249.92 339.72,251.06 339.59,252.38 338.3,252.1 337.01,252.38 336.88,251.06 336.21,249.92 337.42,249.39" fill="#111"/>
<path d="M214.2 181.5V284.1H347.4" fill="none" stroke="#111" stroke-width="1.15"/>
<line x1="214.2" y1="284.1" x2="217.8" y2="284.1" stroke="#111" stroke-width="1.2"/>
<line x1="214.2" y1="267" x2="217.8" y2="267" stroke="#111" stroke-width="1.2"/>
<line x1="214.2" y1="249.9" x2="217.8" y2="249.9" stroke="#111" stroke-width="1.2"/>
<line x1="214.2" y1="232.8" x2="217.8" y2="232.8" stroke="#111" stroke-width="1.2"/>
<line x1="214.2" y1="215.7" x2="217.8" y2="215.7" stroke="#111" stroke-width="1.2"/>
<line x1="214.2" y1="198.6" x2="217.8" y2="198.6" stroke="#111" stroke-width="1.2"/>
<line x1="214.2" y1="181.5" x2="217.8" y2="181.5" stroke="#111" stroke-width="1.2"/>
<line x1="247.2" y1="284.1" x2="247.2" y2="280.5" stroke="#111" stroke-width="1.1"/>
<line x1="280.2" y1="284.1" x2="280.2" y2="280.5" stroke="#111" stroke-width="1.1"/>
<line x1="313.2" y1="284.1" x2="313.2" y2="280.5" stroke="#111" stroke-width="1.1"/>
<line x1="347.4" y1="284.1" x2="347.4" y2="280.5" stroke="#111" stroke-width="1.1"/>
<text x="207.9" y="287.7" text-anchor="end" textLength="5" lengthAdjust="spacingAndGlyphs" style="font-family:'Liberation Sans', sans-serif;font-weight:bold;stroke:#111;stroke-width:0.35px;font-size:9.5px;stroke-width:0.35px">0</text>
<text x="207.9" y="270.6" text-anchor="end" textLength="15.01" lengthAdjust="spacingAndGlyphs" style="font-family:'Liberation Sans', sans-serif;font-weight:bold;stroke:#111;stroke-width:0.35px;font-size:9.5px;stroke-width:0.35px">100</text>
<text x="207.9" y="253.5" text-anchor="end" textLength="15.01" lengthAdjust="spacingAndGlyphs" style="font-family:'Liberation Sans', sans-serif;font-weight:bold;stroke:#111;stroke-width:0.35px;font-size:9.5px;stroke-width:0.35px">200</text>
<text x="207.9" y="236.4" text-anchor="end" textLength="15.01" lengthAdjust="spacingAndGlyphs" style="font-family:'Liberation Sans', sans-serif;font-weight:bold;stroke:#111;stroke-width:0.35px;font-size:9.5px;stroke-width:0.35px">300</text>
<text x="207.9" y="219.3" text-anchor="end" textLength="15.01" lengthAdjust="spacingAndGlyphs" style="font-family:'Liberation Sans', sans-serif;font-weight:bold;stroke:#111;stroke-width:0.35px;font-size:9.5px;stroke-width:0.35px">400</text>
<text x="207.9" y="202.2" text-anchor="end" textLength="15.01" lengthAdjust="spacingAndGlyphs" style="font-family:'Liberation Sans', sans-serif;font-weight:bold;stroke:#111;stroke-width:0.35px;font-size:9.5px;stroke-width:0.35px">500</text>
<text x="207.9" y="185.1" text-anchor="end" textLength="15.01" lengthAdjust="spacingAndGlyphs" style="font-family:'Liberation Sans', sans-serif;font-weight:bold;stroke:#111;stroke-width:0.35px;font-size:9.5px;stroke-width:0.35px">600</text>
<text x="229.95" y="293" text-anchor="middle" style="font-family:'Liberation Sans', sans-serif;font-weight:bold;stroke:#111;stroke-width:0.35px;font-size:7.3px">0 hr</text>
<text x="263.15" y="293" text-anchor="middle" style="font-family:'Liberation Sans', sans-serif;font-weight:bold;stroke:#111;stroke-width:0.35px;font-size:7.3px">6 hr</text>
<text x="298" y="293" text-anchor="middle" style="font-family:'Liberation Sans', sans-serif;font-weight:bold;stroke:#111;stroke-width:0.35px;font-size:7.3px">24 hr</text>
<text x="331" y="293" text-anchor="middle" style="font-family:'Liberation Sans', sans-serif;font-weight:bold;stroke:#111;stroke-width:0.35px;font-size:7.3px">1 week</text>
<text transform="translate(186.95 277) rotate(-90)" textLength="97.7" lengthAdjust="spacingAndGlyphs" style="font-family:'Liberation Sans', sans-serif;font-weight:bold;stroke:#111;stroke-width:0.35px;font-size:7.6px">IFN-γ Concentration (pg/ml)</text>
<text x="183.1" y="171.6" style="font-family:'Liberation Sans', sans-serif;font-weight:bold;stroke:#111;stroke-width:0.35px;font-size:12.2px;stroke-width:0.5px">E</text>
<line x1="399.8" y1="267.2" x2="399.8" y2="266.3" stroke="#333" stroke-width="0.8"/>
<line x1="398.2" y1="266.3" x2="401.4" y2="266.3" stroke="#333" stroke-width="0.9"/>
<rect x="396.55" y="267.65" width="6.9" height="15.75" fill="#fff" stroke="#4a4a4a" stroke-width="0.9"/>
<line x1="408.4" y1="271.3" x2="408.4" y2="270.4" stroke="#333" stroke-width="0.8"/>
<line x1="406.8" y1="270.4" x2="410" y2="270.4" stroke="#333" stroke-width="0.9"/>
<rect x="404.7" y="271.3" width="7.4" height="12.1" fill="#000"/>
<line x1="417" y1="255.7" x2="417" y2="254.8" stroke="#333" stroke-width="0.8"/>
<line x1="415.4" y1="254.8" x2="418.6" y2="254.8" stroke="#333" stroke-width="0.9"/>
<rect x="413.75" y="256.15" width="6.5" height="27.25" fill="#979797" stroke="#5c5c5c" stroke-width="0.9"/>
<line x1="431.2" y1="259.8" x2="431.2" y2="257.9" stroke="#333" stroke-width="0.8"/>
<line x1="429.6" y1="257.9" x2="432.8" y2="257.9" stroke="#333" stroke-width="0.9"/>
<rect x="427.95" y="260.25" width="6.9" height="23.15" fill="#fff" stroke="#4a4a4a" stroke-width="0.9"/>
<line x1="439.8" y1="267.8" x2="439.8" y2="265.5" stroke="#333" stroke-width="0.8"/>
<line x1="438.2" y1="265.5" x2="441.4" y2="265.5" stroke="#333" stroke-width="0.9"/>
<rect x="436.1" y="267.8" width="7.4" height="15.6" fill="#000"/>
<line x1="448.4" y1="205.1" x2="448.4" y2="201.6" stroke="#333" stroke-width="0.8"/>
<line x1="446.8" y1="201.6" x2="450" y2="201.6" stroke="#333" stroke-width="0.9"/>
<rect x="445.15" y="205.55" width="6.5" height="77.85" fill="#979797" stroke="#5c5c5c" stroke-width="0.9"/>
<line x1="462.6" y1="256.3" x2="462.6" y2="253.4" stroke="#333" stroke-width="0.8"/>
<line x1="461" y1="253.4" x2="464.2" y2="253.4" stroke="#333" stroke-width="0.9"/>
<rect x="459.35" y="256.75" width="6.9" height="26.65" fill="#fff" stroke="#4a4a4a" stroke-width="0.9"/>
<line x1="471.2" y1="259.8" x2="471.2" y2="257.3" stroke="#333" stroke-width="0.8"/>
<line x1="469.6" y1="257.3" x2="472.8" y2="257.3" stroke="#333" stroke-width="0.9"/>
<rect x="467.5" y="259.8" width="7.4" height="23.6" fill="#000"/>
<line x1="479.8" y1="217.2" x2="479.8" y2="214.1" stroke="#333" stroke-width="0.8"/>
<line x1="478.2" y1="214.1" x2="481.4" y2="214.1" stroke="#333" stroke-width="0.9"/>
<rect x="476.55" y="217.65" width="6.5" height="65.75" fill="#979797" stroke="#5c5c5c" stroke-width="0.9"/>
<line x1="494" y1="266.9" x2="494" y2="266" stroke="#333" stroke-width="0.8"/>
<line x1="492.4" y1="266" x2="495.6" y2="266" stroke="#333" stroke-width="0.9"/>
<rect x="490.75" y="267.35" width="6.9" height="16.05" fill="#fff" stroke="#4a4a4a" stroke-width="0.9"/>
<line x1="502.6" y1="259.8" x2="502.6" y2="257.3" stroke="#333" stroke-width="0.8"/>
<line x1="501" y1="257.3" x2="504.2" y2="257.3" stroke="#333" stroke-width="0.9"/>
<rect x="498.9" y="259.8" width="7.4" height="23.6" fill="#000"/>
<line x1="511.2" y1="251.9" x2="511.2" y2="250.6" stroke="#333" stroke-width="0.8"/>
<line x1="509.6" y1="250.6" x2="512.8" y2="250.6" stroke="#333" stroke-width="0.9"/>
<rect x="507.95" y="252.35" width="6.5" height="31.05" fill="#979797" stroke="#5c5c5c" stroke-width="0.9"/>
<polygon points="446.2,195.1 447.08,196.09 448.29,196.62 447.62,197.76 447.49,199.08 446.2,198.8 444.91,199.08 444.78,197.76 444.11,196.62 445.32,196.09" fill="#111"/>
<polygon points="450.6,195.1 451.48,196.09 452.69,196.62 452.02,197.76 451.89,199.08 450.6,198.8 449.31,199.08 449.18,197.76 448.51,196.62 449.72,196.09" fill="#111"/>
<polygon points="477.6,207.4 478.48,208.39 479.69,208.92 479.02,210.06 478.89,211.38 477.6,211.1 476.31,211.38 476.18,210.06 475.51,208.92 476.72,208.39" fill="#111"/>
<polygon points="482,207.4 482.88,208.39 484.09,208.92 483.42,210.06 483.29,211.38 482,211.1 480.71,211.38 480.58,210.06 479.91,208.92 481.12,208.39" fill="#111"/>
<polygon points="510.3,245.1 511.18,246.09 512.39,246.62 511.72,247.76 511.59,249.08 510.3,248.8 509.01,249.08 508.88,247.76 508.21,246.62 509.42,246.09" fill="#111"/>
<path d="M392.5 186V283.4H518.1" fill="none" stroke="#111" stroke-width="1.15"/>
<line x1="392.5" y1="283.4" x2="396.1" y2="283.4" stroke="#111" stroke-width="1.2"/>
<line x1="392.5" y1="273.66" x2="396.1" y2="273.66" stroke="#111" stroke-width="1.2"/>
<line x1="392.5" y1="263.92" x2="396.1" y2="263.92" stroke="#111" stroke-width="1.2"/>
<line x1="392.5" y1="254.18" x2="396.1" y2="254.18" stroke="#111" stroke-width="1.2"/>
<line x1="392.5" y1="244.44" x2="396.1" y2="244.44" stroke="#111" stroke-width="1.2"/>
<line x1="392.5" y1="234.7" x2="396.1" y2="234.7" stroke="#111" stroke-width="1.2"/>
<line x1="392.5" y1="224.96" x2="396.1" y2="224.96" stroke="#111" stroke-width="1.2"/>
<line x1="392.5" y1="215.22" x2="396.1" y2="215.22" stroke="#111" stroke-width="1.2"/>
<line x1="392.5" y1="205.48" x2="396.1" y2="205.48" stroke="#111" stroke-width="1.2"/>
<line x1="392.5" y1="195.74" x2="396.1" y2="195.74" stroke="#111" stroke-width="1.2"/>
<line x1="392.5" y1="186" x2="396.1" y2="186" stroke="#111" stroke-width="1.2"/>
<line x1="423.9" y1="283.4" x2="423.9" y2="279.8" stroke="#111" stroke-width="1.1"/>
<line x1="455.3" y1="283.4" x2="455.3" y2="279.8" stroke="#111" stroke-width="1.1"/>
<line x1="486.7" y1="283.4" x2="486.7" y2="279.8" stroke="#111" stroke-width="1.1"/>
<line x1="518.1" y1="283.4" x2="518.1" y2="279.8" stroke="#111" stroke-width="1.1"/>
<text x="386.9" y="287" text-anchor="end" textLength="5" lengthAdjust="spacingAndGlyphs" style="font-family:'Liberation Sans', sans-serif;font-weight:bold;stroke:#111;stroke-width:0.35px;font-size:9.5px;stroke-width:0.35px">0</text>
<text x="386.9" y="267.52" text-anchor="end" textLength="5" lengthAdjust="spacingAndGlyphs" style="font-family:'Liberation Sans', sans-serif;font-weight:bold;stroke:#111;stroke-width:0.35px;font-size:9.5px;stroke-width:0.35px">5</text>
<text x="386.9" y="248.04" text-anchor="end" textLength="10.01" lengthAdjust="spacingAndGlyphs" style="font-family:'Liberation Sans', sans-serif;font-weight:bold;stroke:#111;stroke-width:0.35px;font-size:9.5px;stroke-width:0.35px">10</text>
<text x="386.9" y="228.56" text-anchor="end" textLength="10.01" lengthAdjust="spacingAndGlyphs" style="font-family:'Liberation Sans', sans-serif;font-weight:bold;stroke:#111;stroke-width:0.35px;font-size:9.5px;stroke-width:0.35px">15</text>
<text x="386.9" y="209.08" text-anchor="end" textLength="10.01" lengthAdjust="spacingAndGlyphs" style="font-family:'Liberation Sans', sans-serif;font-weight:bold;stroke:#111;stroke-width:0.35px;font-size:9.5px;stroke-width:0.35px">20</text>
<text x="386.9" y="189.6" text-anchor="end" textLength="10.01" lengthAdjust="spacingAndGlyphs" style="font-family:'Liberation Sans', sans-serif;font-weight:bold;stroke:#111;stroke-width:0.35px;font-size:9.5px;stroke-width:0.35px">25</text>
<text x="407.85" y="292.4" text-anchor="middle" style="font-family:'Liberation Sans', sans-serif;font-weight:bold;stroke:#111;stroke-width:0.35px;font-size:7.3px">0 hr</text>
<text x="439.75" y="292.4" text-anchor="middle" style="font-family:'Liberation Sans', sans-serif;font-weight:bold;stroke:#111;stroke-width:0.35px;font-size:7.3px">6 hr</text>
<text x="471.25" y="292.4" text-anchor="middle" style="font-family:'Liberation Sans', sans-serif;font-weight:bold;stroke:#111;stroke-width:0.35px;font-size:7.3px">24 hr</text>
<text x="502.8" y="292.4" text-anchor="middle" style="font-family:'Liberation Sans', sans-serif;font-weight:bold;stroke:#111;stroke-width:0.35px;font-size:7.3px">1 week</text>
<text transform="translate(372.1 276.3) rotate(-90)" textLength="91.4" lengthAdjust="spacingAndGlyphs" style="font-family:'Liberation Sans', sans-serif;font-weight:bold;stroke:#111;stroke-width:0.35px;font-size:7.2px">tPA Concentration (ng/ml)</text>
<text x="369.3" y="174.2" style="font-family:'Liberation Sans', sans-serif;font-weight:bold;stroke:#111;stroke-width:0.35px;font-size:12.2px;stroke-width:0.5px">F</text>
<line x1="72" y1="45.4" x2="98.2" y2="45.4" stroke="#111" stroke-width="1"/>
<line x1="106.6" y1="52.5" x2="132.8" y2="52.5" stroke="#111" stroke-width="1"/>
<text x="85.65" y="42.5" text-anchor="middle" style="font-family:'Liberation Sans', sans-serif;font-weight:bold;stroke:#111;stroke-width:0.35px;font-size:7px">NS</text>
<text x="119.4" y="49.5" text-anchor="middle" style="font-family:'Liberation Sans', sans-serif;font-weight:bold;stroke:#111;stroke-width:0.35px;font-size:7px">NS</text>
<rect x="469.5" y="0.5" width="49.1" height="42" fill="#fff" stroke="#555" stroke-width="0.9"/>
<rect x="475.5" y="4.9" width="6.2" height="6.4" fill="#fff" stroke="#555" stroke-width="0.9"/>
<rect x="475" y="18" width="7" height="7" fill="#000"/>
<rect x="475.5" y="31.6" width="6.2" height="6.4" fill="#aaa" stroke="#555" stroke-width="0.9"/>
<text x="487.7" y="10.6" style="font-family:'Liberation Sans', sans-serif;font-size:6.6px;stroke:#111;stroke-width:0.35px;">Vehicle</text>
<text x="487.7" y="23.9" textLength="27.6" lengthAdjust="spacingAndGlyphs" style="font-family:'Liberation Sans', sans-serif;font-size:6.6px;stroke:#111;stroke-width:0.35px;">Seprafilm</text>
<text x="487.7" y="37.1" style="font-family:'Liberation Sans', sans-serif;font-size:6.6px;stroke:#111;stroke-width:0.35px;">APC-WT</text>
</svg></body></html>
